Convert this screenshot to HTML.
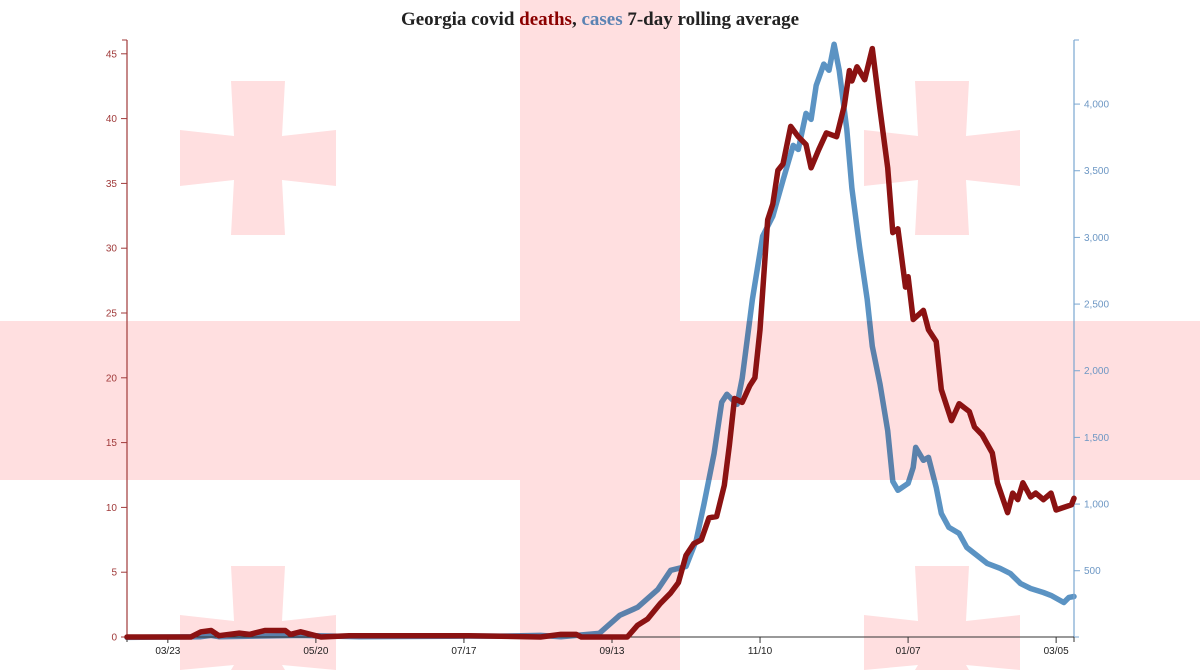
<!DOCTYPE html>
<html><head><meta charset="utf-8">
<style>
html,body{margin:0;padding:0;background:#fff;width:1200px;height:670px;overflow:hidden;}
svg{display:block;}
.tl{font-family:"Liberation Sans",sans-serif;font-size:10px;}
</style></head>
<body>
<svg id="chart" width="1200" height="670" viewBox="0 0 1200 670">
  <g id="bg" style="isolation:isolate">
  <g id="flag" fill="#ffdfe0">
    <rect x="520" y="0" width="160" height="670"/>
    <rect x="0" y="321" width="1200" height="159"/>
  </g>
  <g id="caseg"></g>
  </g>
  <text x="600" y="25" text-anchor="middle" font-family="'Liberation Serif',serif" font-weight="bold" font-size="19" fill="#222">Georgia covid <tspan fill="#8b0000">deaths</tspan>, <tspan fill="#5b83b3">cases</tspan> 7-day rolling average</text>
  <g id="axes"></g>
  <g id="series"></g>
</svg>
<script>
const deathDays=[0,25,29,33,36,44,48,54,62,64,68,72,76,87,99,115,134,162,170,176,178,196,200,204,209,213,216,219,222,225,228,231,234,236,238,241,244,246,248,251,253,255,257,260,263,266,268,271,274,278,281,283,284,286,289,292,295,298,300,302,305,306,308,312,314,317,319,323,326,330,332,335,339,341,345,347,349,351,354,356,359,362,364,367,370,371];
const deathVals=[0,0,0.4,0.5,0.1,0.3,0.2,0.5,0.5,0.2,0.4,0.2,0,0.1,0.1,0.1,0.1,0,0.2,0.2,0,0,0.9,1.4,2.6,3.4,4.2,6.3,7.2,7.5,9.2,9.3,11.7,14.8,18.4,18.1,19.4,20,23.7,32.2,33.4,36,36.5,39.4,38.6,38,36.2,37.6,38.9,38.6,41,43.7,42.9,44,43,45.4,40.7,36.2,31.2,31.5,27,27.8,24.5,25.2,23.7,22.8,19.1,16.7,18,17.4,16.2,15.6,14.2,11.9,9.6,11.1,10.6,11.9,10.8,11.1,10.6,11.1,9.8,10,10.2,10.7];
const caseDays=[0,29,33,36,68,91,134,146,162,170,185,193,200,208,213,219,223,226,230,233,235,239,241,245,249,253,257,261,263,266,268,270,273,275,277,279,282,284,287,290,292,295,298,300,302,306,308,309,312,314,317,319,322,326,329,333,337,342,346,350,354,359,362,367,369,371];
const caseVals=[0,5,15,5,15,5,10,10,15,5,30,165,225,360,503,532,727,997,1380,1763,1823,1748,1943,2535,3008,3158,3428,3690,3660,3930,3885,4140,4300,4253,4448,4253,3810,3368,2925,2535,2183,1900,1550,1170,1103,1155,1275,1425,1328,1350,1125,930,825,780,675,615,555,518,480,405,367,337,315,262,300,307];
const xTickDays=[16,74,132,190,248,306,364];
const xTickLabels=["03/23","05/20","07/17","09/13","11/10","01/07","03/05"];
const leftTicks=[0,5,10,15,20,25,30,35,40,45];
const rightTicks=[500,1000,1500,2000,2500,3000,3500,4000];
const rightTickLabels=["500","1,000","1,500","2,000","2,500","3,000","3,500","4,000"];

const X0=127,X1=1074,DMAX=371;
const x=d=>X0+d*(X1-X0)/DMAX;
const yL=v=>637-v*12.96;
const yR=v=>637.4-v*0.13333;
const NS="http://www.w3.org/2000/svg";
function mk(tag,attrs,parent){const e=document.createElementNS(NS,tag);for(const k in attrs)e.setAttribute(k,attrs[k]);parent.appendChild(e);return e;}

// small crosses
const flag=document.getElementById('flag');
const crossPts=[[-27,-77],[27,-77],[24,-22],[78,-28],[78,28],[24,22],[27,77],[-27,77],[-24,22],[-78,28],[-78,-28],[-24,-22]];
[[258,158],[942,158],[258,643],[942,643]].forEach(c=>{
  const p=mk('polygon',{points:crossPts.map(q=>(c[0]+q[0])+','+Math.min(670,c[1]+q[1])).join(' ')},flag);
  
  
});

const axes=document.getElementById('axes');
// left axis
const la=mk('g',{},axes);


mk('line',{x1:127,y1:40,x2:127,y2:637,stroke:'#a03a3a','stroke-width':1.2},la);
mk('line',{x1:122,y1:40,x2:127,y2:40,stroke:'#a03a3a'},la);
leftTicks.forEach(v=>{
  mk('line',{x1:121,y1:yL(v),x2:127,y2:yL(v),stroke:'#a03a3a'},la);
  const t=mk('text',{x:117,y:yL(v)+3.5,'text-anchor':'end',fill:'#a03a3a',class:'tl'},la);
  t.textContent=v;
  
  
});
// right axis
const ra=mk('g',{},axes);


mk('line',{x1:1074,y1:40,x2:1074,y2:637,stroke:'#7aa6d0','stroke-width':1.2},ra);
mk('line',{x1:1074,y1:40,x2:1079,y2:40,stroke:'#7aa6d0'},ra);
mk('line',{x1:1074,y1:637,x2:1079,y2:637,stroke:'#7aa6d0'},ra);
rightTicks.forEach((v,i)=>{
  mk('line',{x1:1074,y1:yR(v),x2:1080,y2:yR(v),stroke:'#7aa6d0'},ra);
  const t=mk('text',{x:1084,y:yR(v)+3.5,fill:'#6d97c4',class:'tl'},ra);
  t.textContent=rightTickLabels[i];
  
  
});
// x axis
const xa=mk('g',{},axes);


mk('line',{x1:127,y1:637,x2:1074,y2:637,stroke:'#333','stroke-width':1},xa);
mk('line',{x1:127,y1:637,x2:127,y2:642,stroke:'#333'},xa);
mk('line',{x1:1074,y1:637,x2:1074,y2:642,stroke:'#333'},xa);
xTickDays.forEach((d,i)=>{
  mk('line',{x1:x(d),y1:637,x2:x(d),y2:643,stroke:'#333'},xa);
  const t=mk('text',{x:x(d),y:654,'text-anchor':'middle',fill:'#222',class:'tl'},xa);
  t.textContent=xTickLabels[i];
  
  
});

// series
function path(days,vals,yf){return days.map((d,i)=>(i?'L':'M')+x(d).toFixed(1)+','+yf(vals[i]).toFixed(1)).join('');}
const cg=document.getElementById('caseg');
const cp=mk('path',{d:path(caseDays,caseVals,yR),fill:'none',stroke:'#5b93c3','stroke-width':5.5,'stroke-linejoin':'round','stroke-linecap':'round',style:'mix-blend-mode:multiply'},cg);


const sg=document.getElementById('series');
const dp=mk('path',{d:path(deathDays,deathVals,yL),fill:'none',stroke:'#8b1212','stroke-width':5.5,'stroke-linejoin':'round','stroke-linecap':'round'},sg);


</script>
</body></html>
